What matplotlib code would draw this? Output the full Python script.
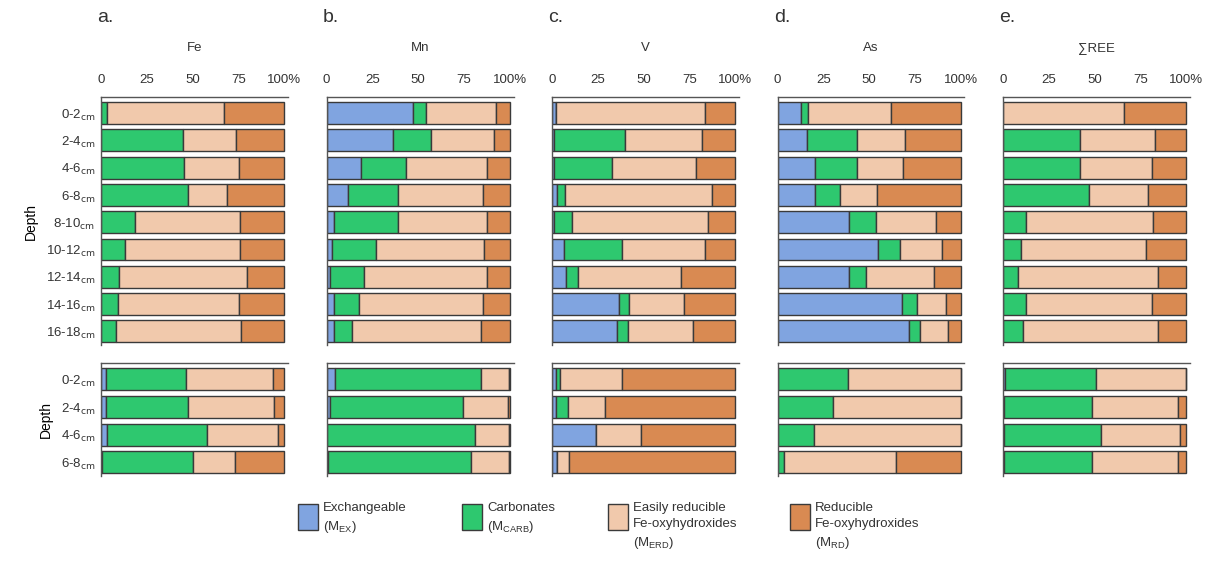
import numpy as np
import matplotlib.pyplot as plt
from matplotlib.patches import Rectangle

plt.rcParams['font.family'] = ['Liberation Sans', 'DejaVu Sans']
plt.rcParams['text.color'] = '#333333'
plt.rcParams['xtick.color'] = '#333333'
plt.rcParams['ytick.color'] = '#333333'
plt.rcParams['mathtext.default'] = 'regular'

# depth intervals (cm)
depth_top = ['0-2', '2-4', '4-6', '6-8', '8-10', '10-12', '12-14', '14-16', '16-18']
depth_bot = ['0-2', '2-4', '4-6', '6-8']

elements = ['Fe', 'Mn', 'V', 'As', '∑REE']
letters = ['a.', 'b.', 'c.', 'd.', 'e.']

# fractions in % : exchangeable, carbonates, easily reducible, reducible
# upper core
fe_ex   = [0, 0, 0, 0, 0, 0, 0, 0, 0]
fe_carb = [3, 44.5, 45.5, 47.5, 18.5, 13, 10, 9, 8]
fe_erd  = [64, 29, 29.5, 21, 57.5, 63, 69.5, 66, 68.5]
fe_rd   = [33, 26.5, 25, 31.5, 24, 24, 20.5, 25, 23.5]

mn_ex   = [47, 36, 19, 11.5, 4, 3, 2, 4, 4]
mn_carb = [7.5, 21, 24.5, 27.5, 35, 24, 18.5, 13.5, 10]
mn_erd  = [38, 34.5, 44, 46.5, 48.5, 59, 67, 68, 70.5]
mn_rd   = [7.5, 8.5, 12.5, 14.5, 12.5, 14, 12.5, 14.5, 15.5]

v_ex   = [2, 1, 1, 2.5, 1, 6.5, 7.5, 36.5, 35.5]
v_carb = [0, 39, 31.5, 4.5, 10, 31.5, 6.5, 5.5, 6]
v_erd  = [81.5, 42, 46, 80.5, 74, 45.5, 56.5, 30, 35.5]
v_rd   = [16.5, 18, 21.5, 12.5, 15, 16.5, 29.5, 28, 23]

as_ex   = [13, 16, 20.5, 20.5, 39, 55, 39, 68, 71.5]
as_carb = [3.5, 27.5, 23, 13.5, 14.5, 12, 9, 8, 6.5]
as_erd  = [45.5, 26, 25, 20.5, 33, 23, 37.5, 16, 15]
as_rd   = [38, 30.5, 31.5, 45.5, 13.5, 10, 14.5, 8, 7]

ree_ex   = [0, 0, 0, 0, 0, 0, 0, 0, 0]
ree_carb = [0, 42, 42, 47, 12.5, 10, 8, 12.5, 11]
ree_erd  = [66, 41, 39, 32, 69.5, 68, 76.5, 68.5, 73.5]
ree_rd   = [34, 17, 19, 21, 18, 22, 15.5, 19, 15.5]

# lower core
fe2_ex   = [2.5, 2.5, 3, 0.5]
fe2_carb = [44, 45, 55, 49.5]
fe2_erd  = [47.5, 47, 38.5, 23]
fe2_rd   = [6, 5.5, 3.5, 27]

mn2_ex   = [4.5, 2, 0.5, 1]
mn2_carb = [80, 72.5, 80.5, 78]
mn2_erd  = [15, 24.5, 18.5, 20.5]
mn2_rd   = [0.5, 1, 0.5, 0.5]

v2_ex   = [2, 2, 24, 2.5]
v2_carb = [2.5, 6.5, 0, 0]
v2_erd  = [33.5, 20.5, 24.5, 7]
v2_rd   = [62, 71, 51.5, 90.5]

as2_ex   = [0, 0, 0, 0.5]
as2_carb = [38.5, 30, 20, 3]
as2_erd  = [61.5, 70, 80, 61]
as2_rd   = [0, 0, 0, 35.5]

ree2_ex   = [1, 0.5, 0.5, 0.5]
ree2_carb = [49.5, 48, 53, 48]
ree2_erd  = [49.5, 47, 43, 47]
ree2_rd   = [0, 4.5, 3.5, 4.5]

top_data = [
    [fe_ex, fe_carb, fe_erd, fe_rd],
    [mn_ex, mn_carb, mn_erd, mn_rd],
    [v_ex, v_carb, v_erd, v_rd],
    [as_ex, as_carb, as_erd, as_rd],
    [ree_ex, ree_carb, ree_erd, ree_rd],
]
bot_data = [
    [fe2_ex, fe2_carb, fe2_erd, fe2_rd],
    [mn2_ex, mn2_carb, mn2_erd, mn2_rd],
    [v2_ex, v2_carb, v2_erd, v2_rd],
    [as2_ex, as2_carb, as2_erd, as2_rd],
    [ree2_ex, ree2_carb, ree2_erd, ree2_rd],
]

colors = ['#80a4e0', '#2ec86f', '#f1c9ac', '#d98a52']
edge = '#3a3a3a'
legend_labels = ['Exchangeable\n(M$_{EX}$)', 'Carbonates\n(M$_{CARB}$)',
                 'Easily reducible\nFe-oxyhydroxides\n(M$_{ERD}$)',
                 'Reducible\nFe-oxyhydroxides\n(M$_{RD}$)']

W, H = 1220, 583
fig = plt.figure(figsize=(W / 100, H / 100), dpi=100)


def draw(ax, data, depths, show_y):
    y = np.arange(len(depths))
    left = np.zeros(len(depths))
    for vals, col in zip(data, colors):
        vals = np.array(vals, dtype=float)
        ax.barh(y, vals, left=left, height=0.8, color=col,
                edgecolor=edge, linewidth=1.0)
        left += vals
    ax.set_xlim(0, 102)
    ax.set_ylim(len(depths) - 0.5, -0.59)
    for s in ['right', 'bottom']:
        ax.spines[s].set_visible(False)
    for s in ['top', 'left']:
        ax.spines[s].set_color('#555555')
        ax.spines[s].set_linewidth(1.0)
    ax.tick_params(length=0)
    ax.set_yticks(y)
    if show_y:
        ax.set_yticklabels([d + '$_{\\rm cm}$' for d in depths], fontsize=9.5)
        ax.set_ylabel('Depth', fontsize=10, labelpad=6)
    else:
        ax.set_yticklabels([])
    ax.tick_params(axis='y', pad=4)


x0 = 101
dx = 225.5
aw = 187
for i in range(5):
    left = (x0 + i * dx) / W
    ax1 = fig.add_axes([left, 1 - 345 / H, aw / W, 248 / H])
    draw(ax1, top_data[i], depth_top, i == 0)
    ax1.xaxis.tick_top()
    ax1.set_xticks([0, 25, 50, 75, 100])
    ax1.set_xticklabels(['0', '25', '50', '75', '100%'], fontsize=9.5)
    ax1.tick_params(axis='x', pad=8)
    ax1.text(0.5, 1.198, elements[i], transform=ax1.transAxes,
             ha='center', va='center', fontsize=9.5)
    ax1.text(-0.02, 1.32, letters[i], transform=ax1.transAxes,
             ha='left', va='center', fontsize=14)

    ax2 = fig.add_axes([left, 1 - 476 / H, aw / W, 113 / H])
    draw(ax2, bot_data[i], depth_bot, i == 0)
    ax2.set_xticks([])

# legend
lx = [298, 462, 608, 790]
for x, col, lab in zip(lx, colors, legend_labels):
    fig.add_artist(Rectangle((x / W, 1 - 530 / H), 20 / W, 26 / H,
                             transform=fig.transFigure, facecolor=col,
                             edgecolor=edge, linewidth=1.0))
    fig.text((x + 25) / W, 1 - 502 / H, lab, ha='left', va='top',
             fontsize=9.5, linespacing=1.45)

fig.savefig('out.png', dpi=100)
